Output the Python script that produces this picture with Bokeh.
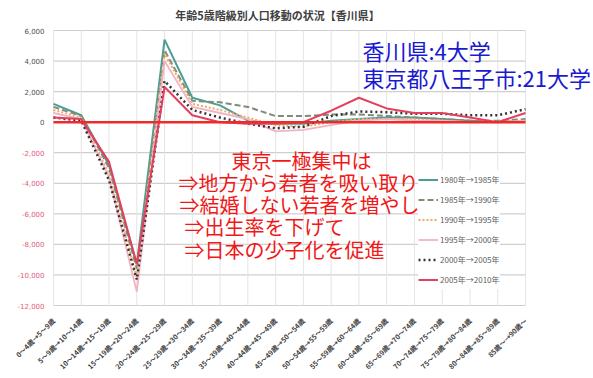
import math
from bokeh.plotting import figure
from bokeh.models import Range1d, FixedTicker, Label, Legend
from bokeh.embed import file_html
from bokeh.resources import INLINE

# ---------------- data ----------------
categories = [
    "0～4歳→5～9歳", "5～9歳→10～14歳", "10～14歳→15～19歳", "15～19歳→20～24歳",
    "20～24歳→25～29歳", "25～29歳→30～34歳", "30～34歳→35～39歳", "35～39歳→40～44歳",
    "40～44歳→45～49歳", "45～49歳→50～54歳", "50～54歳→55～59歳", "55～59歳→60～64歳",
    "60～64歳→65～69歳", "65～69歳→70～74歳", "70～74歳→75～79歳", "75～79歳→80～84歳",
    "80～84歳→85～89歳", "85歳～→90歳～",
]
series_names = ["1980年→1985年", "1985年→1990年", "1990年→1995年",
                "1995年→2000年", "2000年→2005年", "2005年→2010年"]
s1980 = [1200, 450, -2800, -9300, 5400, 1600, 1100, 100, -100, -100, 100, 200, 300, 300, 200, 100, 0, 100]
s1985 = [1000, 400, -3000, -9600, 4700, 1400, 1300, 1000, 400, 400, 500, 500, 400, 300, 200, 100, 100, 200]
s1990 = [800, 300, -3400, -10200, 4500, 1200, 800, 300, -200, -300, 0, 200, 200, 200, 100, 0, 0, 100]
s1995 = [600, 200, -3600, -11100, 4000, 1000, 600, 200, -600, -500, -200, 100, 200, 100, 100, 0, 0, 100]
s2000 = [300, 100, -3800, -10300, 2700, 800, 300, -100, -400, -300, 400, 700, 650, 550, 550, 450, 450, 850]
s2005 = [300, 200, -2600, -9300, 2300, 450, 0, -100, -100, 0, 750, 1600, 900, 600, 600, 300, 0, 600]
y_ticks = [6000, 4000, 2000, 0, -2000, -4000, -6000, -8000, -10000, -12000]
y_tick_labels = ["6,000", "4,000", "2,000", "0", "-2,000", "-4,000", "-6,000",
                 "-8,000", "-10,000", "-12,000"]
title_text = "年齢5歳階級別人口移動の状況【香川県】"
blue_lines = ["香川県:4大学", "東京都八王子市:21大学"]
red_lines = ["東京一極集中は", "⇒地方から若者を吸い取り", "⇒結婚しない若者を増やし",
             "⇒出生率を下げて", "⇒日本の少子化を促進"]

# ---------------- layout ----------------
W, H = 593, 378
PL, PR, PT, PB = 53, 525, 30, 305      # plotting area of the original chart (px)
FRAME_BOTTOM = 312                     # leave room for the lowest tick label
X0, X1 = 0, len(categories) - 1
Y0, Y1 = -12000, 6000
sx = (PR - PL) / (X1 - X0)
sy = (PB - PT) / (Y1 - Y0)

def dx(px):
    return X0 + (px - PL) / sx

def dy(py):
    return Y1 - (py - PT) / sy

JP = "Noto Sans CJK JP"

p = figure(width=W, height=H, output_backend="svg", toolbar_location=None, title=None,
           x_range=Range1d(dx(0), dx(W)), y_range=Range1d(dy(FRAME_BOTTOM), dy(0)),
           min_border_left=0, min_border_right=0, min_border_top=0,
           min_border_bottom=H - FRAME_BOTTOM)
p.outline_line_color = None
p.background_fill_color = "white"
p.border_fill_color = "white"
p.xgrid.visible = False
p.ygrid.visible = False
p.yaxis.visible = False

xticks = list(range(len(categories)))
p.xaxis.ticker = FixedTicker(ticks=xticks)
p.xaxis.major_label_overrides = {i: c for i, c in enumerate(categories)}
p.xaxis.major_label_orientation = math.pi / 4
p.xaxis.major_label_text_font = JP
p.xaxis.major_label_text_font_size = "7px"
p.xaxis.major_label_text_font_style = "bold"
p.xaxis.major_label_text_color = "#404040"
p.xaxis.major_label_standoff = 1
p.xaxis.axis_line_color = None
p.xaxis.major_tick_line_color = None
p.xaxis.minor_tick_line_color = None

# gridlines of the chart area
p.segment(x0=[xticks[0]] * len(y_ticks), x1=[xticks[-1]] * len(y_ticks),
          y0=y_ticks, y1=y_ticks, line_color="#cfcfcf", line_width=1.2)
p.segment(x0=xticks, x1=xticks, y0=[Y0] * len(xticks), y1=[Y1] * len(xticks),
          line_color="#e4e4e4", line_width=1)

# y tick labels (negatives in red, as in the source)
for v, t in zip(y_ticks, y_tick_labels):
    p.add_layout(Label(x=dx(44), y=v, text=t, text_align="right", text_baseline="middle",
                       text_font_size="7px", text_font="DejaVu Sans",
                       text_color="#e0607a" if v < 0 else "#505050"))

styles = [
    dict(color="#4a9e96", line_width=2, line_dash="solid"),
    dict(color="#7f8c78", line_width=2, line_dash="6 3"),
    dict(color="#f2a868", line_width=2, line_dash="2 2"),
    dict(color="#f0b4c4", line_width=1.8, line_dash="solid"),
    dict(color="#333333", line_width=2.5, line_dash="2 3"),
    dict(color="#e4405e", line_width=2, line_dash="solid"),
]
all_series = [s1980, s1985, s1990, s1995, s2000, s2005]
renderers = []
for vals, st in zip(all_series, styles):
    renderers.append(p.line(xticks, vals, **st))

p.segment(x0=[xticks[0]], x1=[xticks[-1]], y0=[0], y1=[0], line_color="#ee2a2a", line_width=2.5)

legend = Legend(items=[(n, [r]) for n, r in zip(series_names, renderers)],
                location=(418, 16 + FRAME_BOTTOM - PB), label_text_font=JP,
                label_text_font_size="8px",
                label_text_color="#606060", glyph_width=20, glyph_height=19,
                label_height=19, spacing=1, padding=5, margin=0, label_standoff=2,
                border_line_color=None, background_fill_alpha=1)
p.add_layout(legend)

# title
p.add_layout(Label(x=dx(277), y=dy(14), text=title_text, text_align="center",
                   text_baseline="middle", text_font=JP, text_font_size="11px",
                   text_font_style="bold", text_color="#404040"))

# blue annotation
for i, t in enumerate(blue_lines):
    p.add_layout(Label(x=dx(362), y=dy(49 + 27 * i), text=t, text_align="left",
                       text_baseline="middle", text_font=JP, text_font_size="22px",
                       text_color="#1a1ad0"))

# red annotation
red_pos = [(301, 160, "center"), (178, 181.5, "left"), (179, 203.5, "left"),
           (184, 226, "left"), (184, 249, "left")]
for (px, py, al), t in zip(red_pos, red_lines):
    p.add_layout(Label(x=dx(px), y=dy(py), text=t, text_align=al, text_baseline="middle",
                       text_font=JP, text_font_size="20px", text_color="#f01818"))

open("out.html", "w").write(file_html(p, INLINE))
